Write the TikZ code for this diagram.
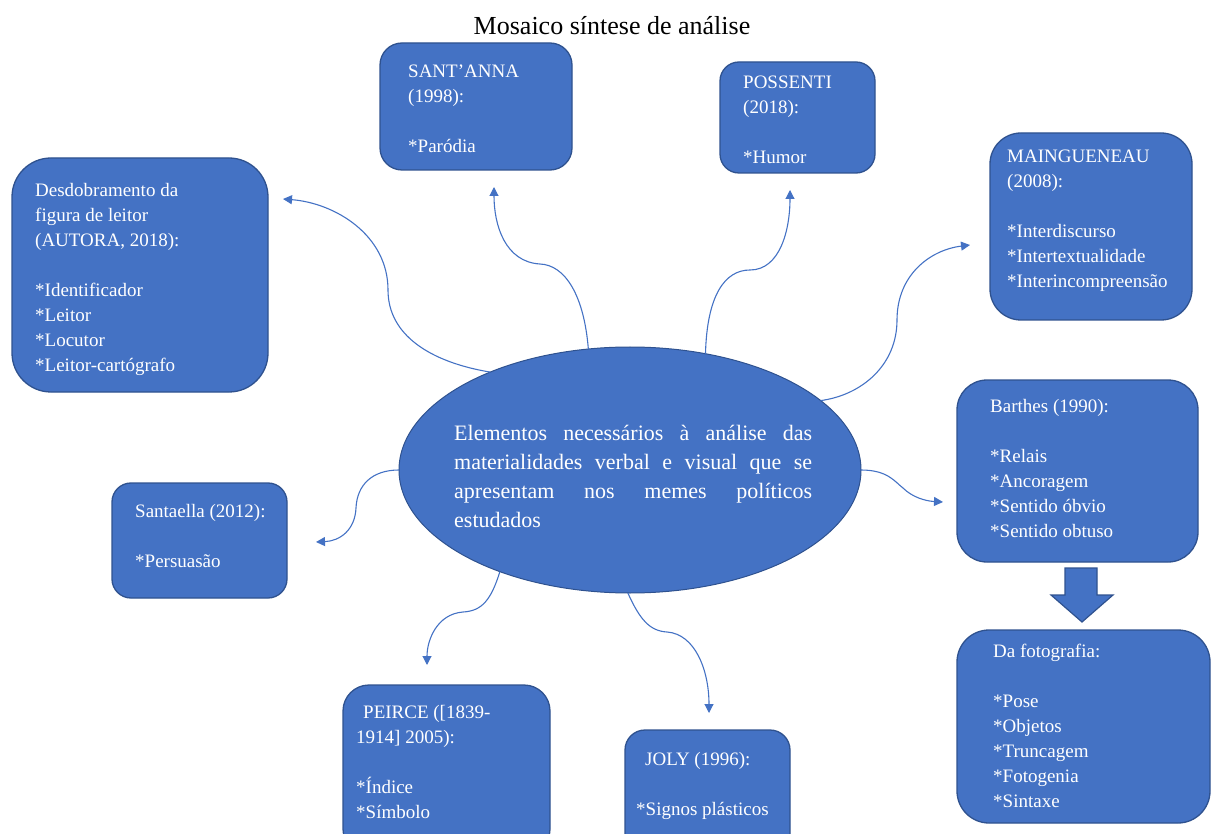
\documentclass[tikz,border=0pt]{standalone}
\usepackage{fontspec}
\setmainfont{Liberation Serif}
\usetikzlibrary{shapes.geometric,arrows.meta}
\definecolor{boxfill}{HTML}{4472C4}
\definecolor{boxedge}{HTML}{2F528F}
\definecolor{linkcol}{HTML}{4472C4}
\begin{document}
\begin{tikzpicture}[x=1pt,y=-1pt,
  box/.style={draw=boxedge, fill=boxfill, line width=1.3pt, anchor=north west, inner sep=0, outer sep=0},
  txt/.style={text=white, font=\fontsize{19}{25}\selectfont, inner sep=0, anchor=base west},
  link/.style={draw=linkcol, line width=1.1pt, -{Triangle[length=9pt,width=9pt]}}]
\clip (0,0) rectangle (1213,834);

% title
\node[font=\fontsize{26}{30}\selectfont, anchor=base, inner sep=0] (title) at (612,35) {Mosaico síntese de análise};

% central ellipse
\node[ellipse, draw=boxedge, fill=boxfill, line width=1pt, minimum width=462pt, minimum height=246pt, inner sep=0, outer sep=0] (el) at (630,470) {};
\node[text=white, font=\fontsize{22}{29}\selectfont, inner sep=0, anchor=base west] (eltext) at (454,440)
 {\parbox[t]{358pt}{\makebox[358pt][s]{Elementos necessários à análise das}\\
  \makebox[358pt][s]{materialidades verbal e visual que se}\\
  \makebox[358pt][s]{apresentam nos memes políticos}\\
  estudados}};

% boxes
\node[box, rounded corners=39pt, minimum width=256pt, minimum height=234pt] (desd) at (12,158) {};
\node[txt] (desdt) at (35,197) {\parbox[t]{250pt}{Desdobramento da\\figura de leitor\\(AUTORA, 2018):\\[25pt]{}*Identificador\\{}*Leitor\\{}*Locutor\\{}*Leitor-cartógrafo}};

\node[box, rounded corners=22pt, minimum width=192pt, minimum height=127pt] (sant) at (380,43) {};
\node[txt] (santt) at (408,78) {\parbox[t]{200pt}{SANT’ANNA\\(1998):\\[25pt]{}*Paródia}};

\node[box, rounded corners=19pt, minimum width=155pt, minimum height=111pt] (poss) at (720,62) {};
\node[txt] (posst) at (743,89) {\parbox[t]{200pt}{POSSENTI\\(2018):\\[25pt]{}*Humor}};

\node[box, rounded corners=31pt, minimum width=202pt, minimum height=187pt] (main) at (990,133) {};
\node[txt] (maint) at (1007,163) {\parbox[t]{200pt}{MAINGUENEAU\\(2008):\\[25pt]{}*Interdiscurso\\{}*Intertextualidade\\{}*Interincompreensão}};

\node[box, rounded corners=30pt, minimum width=241pt, minimum height=182pt] (bart) at (957,380) {};
\node[txt] (bartt) at (990,412) {\parbox[t]{200pt}{Barthes (1990):\\[25pt]{}*Relais\\{}*Ancoragem\\{}*Sentido óbvio\\{}*Sentido obtuso}};

\node[box, rounded corners=32pt, minimum width=253pt, minimum height=193pt] (foto) at (957,630) {};
\node[txt] (fotot) at (993,657) {\parbox[t]{200pt}{Da fotografia:\\[25pt]{}*Pose\\{}*Objetos\\{}*Truncagem\\{}*Fotogenia\\{}*Sintaxe}};

\node[box, rounded corners=19pt, minimum width=175pt, minimum height=115pt] (sata) at (112,483) {};
\node[txt] (satat) at (135,517) {\parbox[t]{200pt}{Santaella (2012):\\[25pt]{}*Persuasão}};

\node[box, rounded corners=26pt, minimum width=207pt, minimum height=170pt] (peir) at (343,685) {};
\node[txt] (peirt) at (356,718) {\parbox[t]{200pt}{\hspace*{7pt}PEIRCE ([1839-\\1914] 2005):\\[25pt]{}*Índice\\{}*Símbolo}};

\node[box, rounded corners=20pt, minimum width=165pt, minimum height=130pt] (joly) at (625,730) {};
\node[txt] (jolyt) at (636,765) {\parbox[t]{200pt}{\hspace*{9pt}JOLY (1996):\\[25pt]{}*Signos plásticos}};

% block arrow between Barthes and Da fotografia
\draw[fill=boxfill, draw=boxedge, line width=1.2pt] (1065,568) -- (1097,568) -- (1097,595) -- (1113,595) -- (1082,622) -- (1051,595) -- (1065,595) -- cycle;

% free ends of connectors
\coordinate (c1) at (283,199);
\coordinate (c2) at (494,187);
\coordinate (c3) at (790,190);
\coordinate (c4) at (970,245);
\coordinate (c5) at (943,502);
\coordinate (c6) at (316,542);
\coordinate (c7) at (427,665);
\coordinate (c8) at (709,713);

% connectors
\draw[link] (el.145) .. controls (430,362) and (388,335) .. (388,290) .. controls (388,235) and (335,203) .. (c1);
\draw[link] (el.109.5) .. controls (584,295) and (565,265) .. (540,264) .. controls (505,262) and (494,225) .. (c2);
\draw[link] (el.57.3) .. controls (707,295) and (725,270) .. (750,270) .. controls (780,270) and (790,230) .. (c3);
\draw[link] (el.20.8) .. controls (862,395) and (897,365) .. (897,320) .. controls (897,275) and (930,250) .. (c4);
\draw[link] (el.0) .. controls (888,470) and (895,482) .. (903,488) .. controls (912,497) and (925,501) .. (c5);
\draw[link] (el.180) .. controls (372,470) and (357,485) .. (356,508) .. controls (355,530) and (340,541) .. (c6);
\draw[link] (el.218.2) .. controls (491,600) and (482,611) .. (463,612) .. controls (437,614) and (427,640) .. (c7);
\draw[link] (el.269) .. controls (640,620) and (650,631) .. (667,632) .. controls (695,634) and (709,670) .. (c8);
\end{tikzpicture}
\end{document}
